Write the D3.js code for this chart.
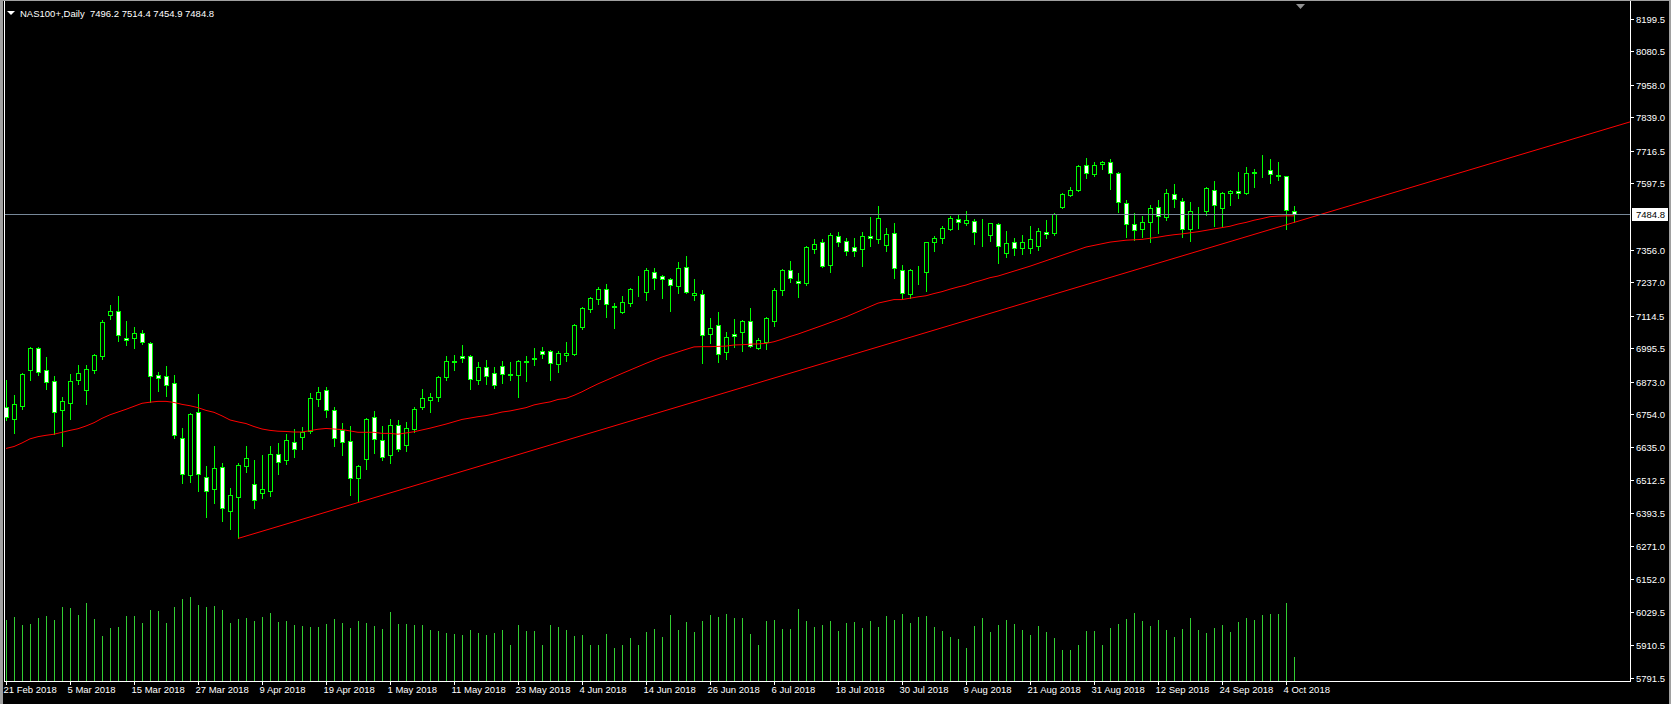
<!DOCTYPE html>
<html><head><meta charset="utf-8">
<script src="https://cdn.jsdelivr.net/npm/d3@7"></script>
<style>html,body{margin:0;padding:0;background:#000;overflow:hidden}</style>
</head><body><svg id="c" width="1671" height="704"></svg>
<script>
// ---------------- DATA ----------------
const symbolTitle = "NAS100+,Daily";
const firstDay = "2018-02-21", lastDay = "2018-10-05";
const closedDays = ["2018-03-30"];

const open = [6779,6738,6785,6915,6995,6915,6874,6768,6796,6878, 6841,6915,6968,7116,7130,7033,7034,7050,7013,6896,
 6893,6867,6666,6531,6761,6526,6480,6560,6400,6453, 6566,6498,6465,6475,6608,6586,6651,6672,6694,6811,
 6841,6768,6695,6655,6520,6589,6743,6659,6604,6714, 6640,6700,6782,6807,6818,6891,6946,6966,6967,6880,
 6927,6904,6930,6901,6896,6946,6955,6984,6984,6936, 6969,6973,7074,7140,7174,7211,7151,7129,7162,7207,
 7202,7273,7258,7247,7224,7291,7190,7192,7046,7079, 6980,7046,7053,7094,6997,7019,7096,7209,7280,7240,
 7235,7359,7382,7298,7404,7386,7364,7357,7404,7396, 7374,7415,7280,7195,7278,7275,7382,7397,7430,7466,
 7452,7459,7407,7408,7448,7345,7385,7360,7360,7370, 7421,7415,7513,7557,7572,7664,7631,7667,7675,7635,
 7525,7448,7430,7455,7510,7474,7558,7532,7430,7496, 7496,7572,7507,7561,7569,7561,7638,7646,7646,7625,
 7624,7496.2];
const high = [6879,6824,6906,6999,7001,6962,6893,6817,6901,6933, 6933,6973,7099,7153,7186,7095,7072,7061,7018,6907,
 6929,6896,6704,6757,6828,6565,6638,6577,6483,6575, 6637,6587,6605,6638,6649,6682,6699,6707,6832,6854,
 6854,6781,6722,6711,6567,6742,6766,6711,6737,6733, 6725,6782,6846,6832,6895,6967,6971,7007,6969,6945,
 6952,6927,6949,6944,6952,6967,6996,7000,6989,6985, 7018,7083,7146,7183,7218,7230,7161,7185,7214,7259,
 7287,7287,7262,7251,7311,7332,7248,7208,7106,7128, 7055,7102,7097,7142,7034,7111,7214,7286,7314,7269,
 7368,7395,7393,7415,7419,7398,7398,7419,7475,7515, 7434,7453,7300,7285,7296,7385,7404,7443,7477,7485,
 7497,7466,7468,7453,7452,7424,7397,7409,7442,7434, 7464,7488,7561,7583,7665,7691,7675,7680,7687,7638,
 7536,7488,7477,7518,7537,7577,7594,7543,7530,7510, 7583,7607,7565,7574,7639,7658,7650,7702,7687,7676,
 7624,7514.4];
const low = [6733,6687,6774,6879,6896,6848,6681,6639,6738,6866, 6793,6905,6957,7103,7021,7008,6997,7010,6798,6840,
 6822,6668,6504,6508,6475,6380,6431,6364,6335,6300, 6544,6410,6447,6455,6536,6572,6597,6627,6687,6785,
 6745,6639,6605,6459,6436,6553,6614,6587,6575,6621, 6620,6690,6773,6763,6804,6879,6916,6944,6846,6865,
 6865,6851,6868,6879,6818,6876,6935,6960,6880,6910, 6950,6971,7066,7129,7157,7111,7069,7124,7151,7187,
 7172,7212,7179,7131,7198,7198,7172,6940,7013,6945, 6955,7001,6985,7001,6993,6993,7078,7190,7239,7184,
 7228,7345,7293,7272,7367,7337,7334,7297,7370,7381, 7352,7253,7175,7178,7231,7206,7352,7379,7426,7431,
 7445,7376,7367,7386,7306,7330,7335,7340,7345,7355, 7399,7410,7509,7552,7570,7619,7626,7652,7577,7494,
 7403,7390,7403,7385,7418,7463,7510,7400,7388,7434, 7481,7441,7441,7520,7546,7558,7586,7622,7600,7610,
 7432,7454.9];
const close = [6745,6790,6900,6995,6907,6873,6761,6801,6874,6904, 6918,6969,7090,7130,7042,7027,7050,7017,6893,6885,
 6862,6677,6534,6755,6534,6475,6556,6411,6458,6567, 6593,6442,6480,6608,6581,6659,6628,6690,6812,6834,
 6768,6666,6651,6520,6564,6736,6662,6597,6714,6626, 6705,6773,6812,6816,6890,6949,6949,6961,6884,6927,
 6895,6862,6902,6899,6949,6949,6960,6975,6940,6977, 6977,7079,7141,7178,7211,7156,7145,7163,7211,7208,
 7280,7253,7247,7228,7287,7202,7196,7045,7068,6975, 7035,7039,7094,7002,7024,7105,7207,7280,7253,7233,
 7364,7375,7297,7408,7382,7349,7349,7404,7397,7470, 7412,7287,7198,7280,7279,7382,7397,7434,7470,7455,
 7463,7419,7406,7452,7369,7378,7360,7385,7395,7424, 7412,7485,7558,7572,7661,7635,7664,7675,7635,7529,
 7448,7426,7455,7507,7477,7561,7540,7430,7496,7497, 7580,7518,7561,7569,7561,7635,7636,7646,7631,7627,
 7499,7484.8];
// tick volume, thousands
const volumeK = [61,64,56,57,63,65,61,74,73,66, 78,62,45,53,54,65,65,58,71,70, 58,74,82,84,76,74,75,71,58,62,
 63,60,64,68,59,60,56,55,54,54, 57,62,58,53,60,58,55,52,69,57, 57,56,56,51,50,48,47,46,51,48,
 46,48,51,36,56,50,50,36,56,54, 51,45,46,36,36,47,33,36,43,36, 49,52,44,66,51,59,49,60,66,64,
 67,63,63,47,36,60,61,52,52,72, 60,54,56,60,50,58,59,53,60,54, 65,61,67,58,64,65,54,50,44,42,
 33,55,63,49,56,61,57,51,46,55, 49,43,31,31,36,50,50,36,53,57, 62,68,60,55,61,51,44,52,63,51,
 48,53,56,49,59,63,61,66,67,67, 78,24];
// moving average (bar index, value)
const maIndex = [0,1,2,3,4,5,6,7,8,9,10,11,12,13,14,15,16,17,18,19,20,21,22,23,24,25,26,27,28,29,30,31,32,33,34,35,36,37,38,39,40,41,42,43,44,45,46,47,48,49,51,53,55,57,59,60,61,62,63,64,65,66,67,68,69,70,71,72,73,74,77,80,82,85,86,87,88,89,90,91,92,93,94,95,96,97,98,99,102,105,107,109,111,112,113,114,115,116,117,118,119,120,121,122,123,124,128,132,135,138,140,142,143,144,145,146,147,148,149,150,151,152,153,154,155,156,157,158,159,160,161];
const maValue = [6629,6636,6649,6664,6672,6677,6681,6688,6695,6701,6711,6723,6739,6752,6762,6772,6783,6794,6798,6801,6801,6797,6790,6785,6778,6768,6761,6748,6733,6726,6720,6709,6700,6695,6692,6691,6689,6689,6694,6699,6702,6700,6698,6693,6688,6688,6688,6684,6684,6681,6690,6703,6718,6735,6745,6749,6755,6762,6766,6772,6778,6788,6794,6799,6808,6812,6823,6836,6851,6865,6903,6940,6963,6991,7000,7001,7001,7002,7003,7007,7008,7010,7011,7013,7019,7028,7038,7047,7078,7110,7135,7160,7173,7173,7178,7183,7187,7195,7202,7211,7219,7226,7236,7244,7253,7259,7295,7335,7365,7383,7390,7393,7397,7401,7406,7410,7413,7417,7421,7426,7431,7436,7441,7449,7455,7463,7469,7476,7478,7479,7479];
// trend line anchors (bar index, price)
const trendIndex = [29, 161];
const trendValue = [6300, 7454.9];
const bidPrice = 7484.8;
const priceTicks = ["8199.5","8080.5","7958.0","7839.0","7716.5","7597.5","7356.0","7237.0","7114.5","6995.5","6873.0","6754.0","6635.0","6512.5","6393.5","6271.0","6152.0","6029.5","5910.5","5791.5"];
const timeTicks = ["21 Feb 2018","5 Mar 2018","15 Mar 2018","27 Mar 2018","9 Apr 2018","19 Apr 2018","1 May 2018","11 May 2018","23 May 2018","4 Jun 2018","14 Jun 2018","26 Jun 2018","6 Jul 2018","18 Jul 2018","30 Jul 2018","9 Aug 2018","21 Aug 2018","31 Aug 2018","12 Sep 2018","24 Sep 2018","4 Oct 2018"];

// ---------------- CHART ----------------
const W = 1671, H = 704;
const plotL = 4, plotR = 1630, plotB = 681;
const FONT = "'Liberation Sans', Arial, sans-serif";
const BULL = "#00ff00", VOL = "#32cd32";

const iso = d3.timeFormat("%Y-%m-%d");
const dates = d3.timeDay.range(d3.timeParse("%Y-%m-%d")(firstDay), d3.timeDay.offset(d3.timeParse("%Y-%m-%d")(lastDay), 1))
  .filter(d => d.getDay() !== 0 && d.getDay() !== 6 && !closedDays.includes(iso(d)));
const n = open.length;
const bars = d3.range(n).map(i => ({i, date: dates[i], o: open[i], h: high[i], l: low[i], c: close[i], v: volumeK[i]}));

const x = d3.scaleLinear().domain([0, n - 1]).range([6, 6 + 8 * (n - 1)]);
const y = d3.scaleLinear().domain([5791.5, 8199.5]).range([677.6, 18.7]);
const yv = d3.scaleLinear().domain([0, 100]).range([plotB, plotB - 100]);
const px = i => Math.round(x(i)) + 0.5;
const py = v => Math.round(y(v)) + 0.5;

const svg = d3.select("#c");
svg.append("rect").attr("width", W).attr("height", H).attr("fill", "#000");
// window frame
svg.append("rect").attr("x", 0).attr("y", 0).attr("width", 3).attr("height", H).attr("fill", "#a0a0a0");
svg.append("rect").attr("x", 0).attr("y", 0).attr("width", W).attr("height", 1).attr("fill", "#a0a0a0");
svg.append("rect").attr("x", W - 2).attr("y", 0).attr("width", 2).attr("height", H).attr("fill", "#a0a0a0");

svg.append("clipPath").attr("id", "plot").append("rect").attr("x", plotL + 1).attr("y", 1).attr("width", plotR - plotL - 1).attr("height", plotB - 1);
const g = svg.append("g").attr("clip-path", "url(#plot)");

// volumes
g.append("g").selectAll("line").data(bars).join("line")
  .attr("x1", d => px(d.i)).attr("x2", d => px(d.i))
  .attr("y1", plotB).attr("y2", d => Math.round(yv(d.v)))
  .attr("stroke", VOL).attr("stroke-width", 1);

// candles
const cg = g.append("g");
cg.selectAll("line").data(bars).join("line")
  .attr("x1", d => px(d.i)).attr("x2", d => px(d.i))
  .attr("y1", d => Math.round(y(d.h))).attr("y2", d => Math.round(y(d.l)) + 1)
  .attr("stroke", BULL).attr("stroke-width", 1);
cg.selectAll("rect").data(bars).join("rect")
  .attr("x", d => Math.round(x(d.i)) - 1.5)
  .attr("width", 4)
  .attr("y", d => py(Math.max(d.o, d.c)))
  .attr("height", d => Math.max(0, py(Math.min(d.o, d.c)) - py(Math.max(d.o, d.c))))
  .attr("fill", d => d.c >= d.o ? "#000" : "#fff")
  .attr("stroke", BULL).attr("stroke-width", 1);

// moving average
const ma = maIndex.map((k, j) => ({i: k, v: maValue[j]}));
g.append("path").datum(ma)
  .attr("d", d3.line().x(d => x(d.i)).y(d => y(d.v)))
  .attr("fill", "none").attr("stroke", "#ff0000").attr("stroke-width", 1);

// trend line (ray)
const iEnd = x.invert(plotR + 2);
const slope = (trendValue[1] - trendValue[0]) / (trendIndex[1] - trendIndex[0]);
g.append("line")
  .attr("x1", x(trendIndex[0])).attr("y1", y(trendValue[0]))
  .attr("x2", x(iEnd)).attr("y2", y(trendValue[0] + slope * (iEnd - trendIndex[0])))
  .attr("stroke", "#ff0000").attr("stroke-width", 1);

// bid line
svg.append("line").attr("x1", plotL).attr("x2", plotR).attr("y1", py(bidPrice)).attr("y2", py(bidPrice))
  .attr("stroke", "#778899").attr("stroke-width", 1);

// frame lines
svg.append("line").attr("x1", plotL + 0.5).attr("x2", plotL + 0.5).attr("y1", 1).attr("y2", plotB + 0.5).attr("stroke", "#fff");
svg.append("line").attr("x1", plotR + 0.5).attr("x2", plotR + 0.5).attr("y1", 1).attr("y2", plotB + 0.5).attr("stroke", "#fff");
svg.append("line").attr("x1", plotL).attr("x2", plotR + 1).attr("y1", plotB + 0.5).attr("y2", plotB + 0.5).attr("stroke", "#fff");

// price axis
const pa = svg.append("g");
priceTicks.forEach(t => {
  const yy = py(+t);
  pa.append("line").attr("x1", plotR).attr("x2", plotR + 4).attr("y1", yy).attr("y2", yy).attr("stroke", "#fff");
  pa.append("text").attr("x", plotR + 6).attr("y", yy).attr("dy", "0.35em")
    .attr("fill", "#fff").attr("font-family", FONT).attr("font-size", "9.5px").text(t);
});
// bid tag
const by = py(bidPrice);
pa.append("rect").attr("x", plotR + 2).attr("y", by - 6.5).attr("width", 36).attr("height", 13).attr("fill", "#fff");
pa.append("text").attr("x", plotR + 6).attr("y", by).attr("dy", "0.35em")
  .attr("fill", "#000").attr("font-family", FONT).attr("font-size", "9.5px").text(bidPrice.toFixed(1));

// time axis
const lab = d3.timeFormat("%-d %b %Y");
const ta = svg.append("g");
timeTicks.forEach(t => {
  const k = dates.findIndex(d => lab(d) === t);
  if (k < 0) return;
  const xx = px(k);
  ta.append("line").attr("x1", xx).attr("x2", xx).attr("y1", plotB).attr("y2", plotB + 4).attr("stroke", "#fff");
  ta.append("text").attr("x", xx - 3).attr("y", plotB + 12)
    .attr("fill", "#fff").attr("font-family", FONT).attr("font-size", "9.5px").text(t);
});

// header
svg.append("path").attr("d", "M7,11 L15,11 L11,15 Z").attr("fill", "#fff");
svg.append("text").attr("x", 20).attr("y", 17).attr("fill", "#fff").attr("font-family", FONT).attr("font-size", "9.5px")
  .attr("xml:space", "preserve")
  .text(symbolTitle + "  " + [open[n-1], high[n-1], low[n-1], close[n-1]].map(v => v.toFixed(1)).join(" "));
// shift marker
svg.append("path").attr("d", "M1296,4 L1305,4 L1300.5,9 Z").attr("fill", "#909090");
</script>
</body></html>
